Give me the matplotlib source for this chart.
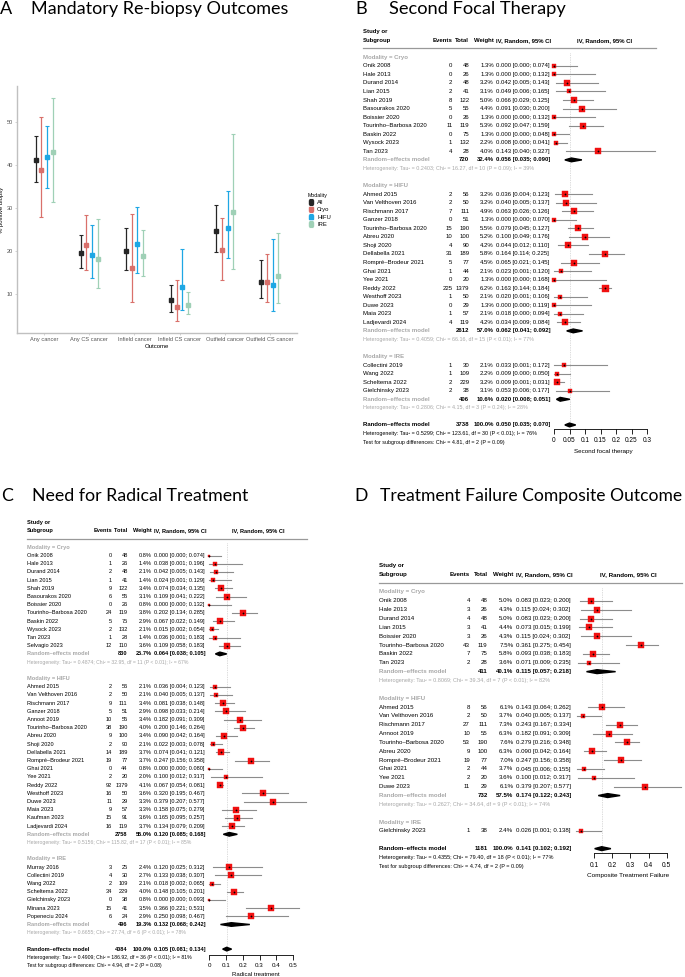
import matplotlib
matplotlib.use('Agg')
import matplotlib.pyplot as plt
from matplotlib import transforms
from matplotlib.patches import Polygon

plt.rcParams['font.family'] = ['Liberation Sans', 'DejaVu Sans']

W, H = 685, 977

# ---------------- panel A data ----------------
outcomes = ['Any cancer', 'Any CS cancer', 'Infield cancer', 'Infield CS cancer',
            'Outfield cancer', 'Outfield CS cancer']
modalities = ['All', 'Cryo', 'HIFU', 'IRE']
est_all = [41.1, 19.6, 20.0, 8.5, 24.7, 12.8]
lo_all = [35.9, 16.0, 15.6, 5.8, 19.7, 9.1]
hi_all = [46.6, 23.6, 25.3, 12.1, 30.6, 17.8]
est_cryo = [38.8, 21.3, 16.1, 7.0, 20.3, 12.8]
lo_cryo = [27.8, 15.6, 8.2, 3.6, 13.3, 8.2]
hi_cryo = [51.0, 28.3, 28.6, 13.2, 27.6, 19.3]
est_hifu = [41.7, 19.1, 21.6, 11.5, 25.4, 12.1]
lo_hifu = [34.6, 13.6, 14.9, 6.2, 18.4, 6.1]
hi_hifu = [48.9, 26.0, 30.2, 20.4, 33.9, 22.7]
est_ire = [43.0, 18.0, 18.9, 7.5, 29.1, 14.2]
lo_ire = [31.3, 11.3, 14.2, 5.3, 15.8, 7.9]
hi_ire = [55.6, 27.3, 24.9, 10.5, 47.1, 24.1]

# ---------------- panel B data (second focal therapy) ----------------
# study, events, total, weight %, estimate, lower, upper
b_cryo = [
    ("Onik 2008", 0, 48, 1.3, 0.000, 0.000, 0.074),
    ("Hale 2013", 0, 26, 1.3, 0.000, 0.000, 0.132),
    ("Durand 2014", 2, 48, 3.2, 0.042, 0.005, 0.143),
    ("Lian 2015", 2, 41, 3.1, 0.049, 0.006, 0.165),
    ("Shah 2019", 8, 122, 5.0, 0.066, 0.029, 0.125),
    ("Basourakos 2020", 5, 55, 4.4, 0.091, 0.030, 0.200),
    ("Boissier 2020", 0, 26, 1.3, 0.000, 0.000, 0.132),
    ("Tourinho\u2013Barbosa 2020", 11, 119, 5.3, 0.092, 0.047, 0.159),
    ("Baskin 2022", 0, 75, 1.3, 0.000, 0.000, 0.048),
    ("Wysock 2023", 1, 132, 2.2, 0.008, 0.000, 0.041),
    ("Tan 2023", 4, 28, 4.0, 0.143, 0.040, 0.327),
]
b_cryo_re = (720, 32.4, 0.056, 0.035, 0.090)
b_cryo_het = "Tau\u00b2 = 0.2403; Chi\u00b2 = 16.27, df = 10 (P = 0.09); I\u00b2 = 39%"
b_hifu = [
    ("Ahmed 2015", 2, 56, 3.2, 0.036, 0.004, 0.123),
    ("Van Velthoven 2016", 2, 50, 3.2, 0.040, 0.005, 0.137),
    ("Rischmann 2017", 7, 111, 4.9, 0.063, 0.026, 0.126),
    ("Ganzer 2018", 0, 51, 1.3, 0.000, 0.000, 0.070),
    ("Tourinho\u2013Barbosa 2020", 15, 190, 5.5, 0.079, 0.045, 0.127),
    ("Abreu 2020", 10, 100, 5.2, 0.100, 0.049, 0.176),
    ("Shoji 2020", 4, 90, 4.2, 0.044, 0.012, 0.110),
    ("Dellabella 2021", 31, 189, 5.8, 0.164, 0.114, 0.225),
    ("Rompr\u00e9\u2013Brodeur 2021", 5, 77, 4.5, 0.065, 0.021, 0.145),
    ("Ghai 2021", 1, 44, 2.1, 0.023, 0.001, 0.120),
    ("Yee 2021", 0, 20, 1.3, 0.000, 0.000, 0.168),
    ("Reddy 2022", 225, 1379, 6.2, 0.163, 0.144, 0.184),
    ("Westhoff 2023", 1, 50, 2.1, 0.020, 0.001, 0.106),
    ("Duwe 2023", 0, 29, 1.3, 0.000, 0.000, 0.119),
    ("Maia 2023", 1, 57, 2.1, 0.018, 0.000, 0.094),
    ("Ladjevardi 2024", 4, 119, 4.2, 0.034, 0.009, 0.084),
]
b_hifu_re = (2612, 57.0, 0.062, 0.041, 0.092)
b_hifu_het = "Tau\u00b2 = 0.4059; Chi\u00b2 = 66.16, df = 15 (P < 0.01); I\u00b2 = 77%"
b_ire = [
    ("Collectini 2019", 1, 30, 2.1, 0.033, 0.001, 0.172),
    ("Wang 2022", 1, 109, 2.2, 0.009, 0.000, 0.050),
    ("Scheltema 2022", 2, 229, 3.2, 0.009, 0.001, 0.031),
    ("Gielchinsky 2023", 2, 38, 3.1, 0.053, 0.006, 0.177),
]
b_ire_re = (406, 10.6, 0.020, 0.008, 0.051)
b_ire_het = "Tau\u00b2 = 0.2806; Chi\u00b2 = 4.15, df = 3 (P = 0.24); I\u00b2 = 28%"
b_overall = (3738, 100.0, 0.050, 0.035, 0.070)
b_overall_het = "Tau\u00b2 = 0.5299; Chi\u00b2 = 123.61, df = 30 (P < 0.01); I\u00b2 = 76%"
b_test = "Chi\u00b2 = 4.81, df = 2 (P = 0.09)"

# ---------------- panel C data (need for radical treatment) ----------------
c_cryo = [
    ("Onik 2008", 0, 48, 0.8, 0.000, 0.000, 0.074),
    ("Hale 2013", 1, 26, 1.4, 0.038, 0.001, 0.196),
    ("Durand 2014", 2, 48, 2.1, 0.042, 0.005, 0.143),
    ("Lian 2015", 1, 41, 1.4, 0.024, 0.001, 0.129),
    ("Shah 2019", 9, 122, 3.4, 0.074, 0.034, 0.135),
    ("Basourakos 2020", 6, 55, 3.1, 0.109, 0.041, 0.222),
    ("Boissier 2020", 0, 26, 0.8, 0.000, 0.000, 0.132),
    ("Tourinho\u2013Barbosa 2020", 24, 119, 3.8, 0.202, 0.134, 0.285),
    ("Baskin 2022", 5, 75, 2.9, 0.067, 0.022, 0.149),
    ("Wysock 2023", 2, 132, 2.1, 0.015, 0.002, 0.054),
    ("Tan 2023", 1, 28, 1.4, 0.036, 0.001, 0.183),
    ("Selvagio 2023", 12, 110, 3.6, 0.109, 0.058, 0.183),
]
c_cryo_re = (830, 25.7, 0.064, 0.038, 0.105)
c_cryo_het = "Tau\u00b2 = 0.4874; Chi\u00b2 = 32.95, df = 11 (P < 0.01); I\u00b2 = 67%"
c_hifu = [
    ("Ahmed 2015", 2, 56, 2.1, 0.036, 0.004, 0.123),
    ("Van Velthoven 2016", 2, 50, 2.1, 0.040, 0.005, 0.137),
    ("Rischmann 2017", 9, 111, 3.4, 0.081, 0.038, 0.148),
    ("Ganzer 2018", 5, 51, 2.9, 0.098, 0.033, 0.214),
    ("Annoot 2019", 10, 55, 3.4, 0.182, 0.091, 0.309),
    ("Tourinho\u2013Barbosa 2020", 38, 190, 4.0, 0.200, 0.146, 0.264),
    ("Abreu 2020", 9, 100, 3.4, 0.090, 0.042, 0.164),
    ("Shoji 2020", 2, 90, 2.1, 0.022, 0.003, 0.078),
    ("Dellabella 2021", 14, 189, 3.7, 0.074, 0.041, 0.121),
    ("Rompr\u00e9\u2013Brodeur 2021", 19, 77, 3.7, 0.247, 0.156, 0.358),
    ("Ghai 2021", 0, 44, 0.8, 0.000, 0.000, 0.080),
    ("Yee 2021", 2, 20, 2.0, 0.100, 0.012, 0.317),
    ("Reddy 2022", 92, 1379, 4.1, 0.067, 0.054, 0.081),
    ("Westhoff 2023", 16, 50, 3.6, 0.320, 0.195, 0.467),
    ("Duwe 2023", 11, 29, 3.3, 0.379, 0.207, 0.577),
    ("Maia 2023", 9, 57, 3.3, 0.158, 0.075, 0.279),
    ("Kaufman 2023", 15, 91, 3.6, 0.165, 0.095, 0.257),
    ("Ladjevardi 2024", 16, 119, 3.7, 0.134, 0.079, 0.209),
]
c_hifu_re = (2758, 55.0, 0.120, 0.085, 0.168)
c_hifu_het = "Tau\u00b2 = 0.5156; Chi\u00b2 = 115.82, df = 17 (P < 0.01); I\u00b2 = 85%"
c_ire = [
    ("Murray 2016", 3, 25, 2.4, 0.120, 0.025, 0.312),
    ("Collectini 2019", 4, 30, 2.7, 0.133, 0.038, 0.307),
    ("Wang 2022", 2, 109, 2.1, 0.018, 0.002, 0.065),
    ("Scheltema 2022", 34, 229, 4.0, 0.148, 0.105, 0.201),
    ("Gielchinsky 2023", 0, 38, 0.8, 0.000, 0.000, 0.093),
    ("Minana 2023", 15, 41, 3.5, 0.366, 0.221, 0.531),
    ("Popeneciu 2024", 6, 24, 2.9, 0.250, 0.098, 0.467),
]
c_ire_re = (496, 19.3, 0.132, 0.068, 0.242)
c_ire_het = "Tau\u00b2 = 0.6655; Chi\u00b2 = 27.74, df = 6 (P < 0.01); I\u00b2 = 78%"
c_overall = (4084, 100.0, 0.105, 0.081, 0.134)
c_overall_het = "Tau\u00b2 = 0.4909; Chi\u00b2 = 186.92, df = 36 (P < 0.01); I\u00b2 = 81%"
c_test = "Chi\u00b2 = 4.94, df = 2 (P = 0.08)"

# ---------------- panel D data (composite treatment failure) ----------------
d_cryo = [
    ("Onik 2008", 4, 48, 5.0, 0.083, 0.023, 0.200),
    ("Hale 2013", 3, 26, 4.3, 0.115, 0.024, 0.302),
    ("Durand 2014", 4, 48, 5.0, 0.083, 0.023, 0.200),
    ("Lian 2015", 3, 41, 4.4, 0.073, 0.015, 0.199),
    ("Boissier 2020", 3, 26, 4.3, 0.115, 0.024, 0.302),
    ("Tourinho\u2013Barbosa 2020", 43, 119, 7.5, 0.361, 0.275, 0.454),
    ("Baskin 2022", 7, 75, 5.8, 0.093, 0.038, 0.183),
    ("Tan 2023", 2, 28, 3.6, 0.071, 0.009, 0.235),
]
d_cryo_re = (411, 40.1, 0.115, 0.057, 0.218)
d_cryo_het = "Tau\u00b2 = 0.8069; Chi\u00b2 = 39.34, df = 7 (P < 0.01); I\u00b2 = 82%"
d_hifu = [
    ("Ahmed 2015", 8, 56, 6.1, 0.143, 0.064, 0.262),
    ("Van Velthoven 2016", 2, 50, 3.7, 0.040, 0.005, 0.137),
    ("Rischmann 2017", 27, 111, 7.3, 0.243, 0.167, 0.334),
    ("Annoot 2019", 10, 55, 6.3, 0.182, 0.091, 0.309),
    ("Tourinho\u2013Barbosa 2020", 53, 190, 7.6, 0.279, 0.216, 0.348),
    ("Abreu 2020", 9, 100, 6.3, 0.090, 0.042, 0.164),
    ("Rompr\u00e9\u2013Brodeur 2021", 19, 77, 7.0, 0.247, 0.156, 0.358),
    ("Ghai 2021", 2, 44, 3.7, 0.045, 0.006, 0.155),
    ("Yee 2021", 2, 20, 3.6, 0.100, 0.012, 0.317),
    ("Duwe 2023", 11, 29, 6.1, 0.379, 0.207, 0.577),
]
d_hifu_re = (732, 57.5, 0.174, 0.122, 0.243)
d_hifu_het = "Tau\u00b2 = 0.2627; Chi\u00b2 = 34.64, df = 9 (P < 0.01); I\u00b2 = 74%"
d_ire = [
    ("Gielchinsky 2023", 1, 38, 2.4, 0.026, 0.001, 0.138),
]
d_overall = (1181, 100.0, 0.141, 0.102, 0.192)
d_overall_het = "Tau\u00b2 = 0.4355; Chi\u00b2 = 79.40, df = 18 (P < 0.01); I\u00b2 = 77%"
d_test = "Chi\u00b2 = 4.74, df = 2 (P = 0.09)"

RED = '#f01010'
GREY = '#a8a8a8'
TITLE_FONT = ['Lato', 'DejaVu Sans']


def fx(px):
    return px / W


def fy(py):
    return 1 - py / H


fig = plt.figure(figsize=(W / 100, H / 100), dpi=100)
renderer = fig.canvas.get_renderer()


def title(letter, text, xl, xt, base, width):
    # size the title so it spans the same width as in the reference
    t = fig.text(fx(xt), fy(base), text, fontsize=13, family=TITLE_FONT, va='baseline')
    size = 13 * width / t.get_window_extent(renderer).width
    t.set_fontsize(size)
    fig.text(fx(xl), fy(base), letter, fontsize=size, family=TITLE_FONT, va='baseline')


# ---------------- panel A ----------------
axA = fig.add_axes([fx(17), fy(333), 280 / W, 247 / H])
cols = {'All': '#262626', 'Cryo': '#d9706b', 'HIFU': '#1ea7e4', 'IRE': '#9fd0b6'}
series = {'All': (est_all, lo_all, hi_all), 'Cryo': (est_cryo, lo_cryo, hi_cryo),
          'HIFU': (est_hifu, lo_hifu, hi_hifu), 'IRE': (est_ire, lo_ire, hi_ire)}
offs = [-0.1875, -0.0625, 0.0625, 0.1875]
for k, m in enumerate(modalities):
    e, lo, hi = series[m]
    xs = [i + 1 + offs[k] for i in range(len(outcomes))]
    yerr = [[a - b for a, b in zip(e, lo)], [b - a for a, b in zip(e, hi)]]
    axA.errorbar(xs, e, yerr=yerr, fmt='s', ms=2.2, color=cols[m], ecolor=cols[m],
                 elinewidth=0.9, capsize=1.4, capthick=0.8, label=m)
axA.set_xlim(0.4, 6.6)
axA.set_ylim(0.9, 58.3)
axA.set_xticks(range(1, 7))
axA.set_xticklabels(outcomes)
axA.set_yticks([10, 20, 30, 40, 50])
for s in ['top', 'right']:
    axA.spines[s].set_visible(False)
for s in ['left', 'bottom']:
    axA.spines[s].set_color('#c0c0c0')
    axA.spines[s].set_linewidth(1.0)
axA.tick_params(length=1.5, width=0.5, color='#c0c0c0', labelsize=4.1,
                labelcolor='#555555', pad=1.5)
axA.set_xlabel('Outcome', fontsize=4.3, labelpad=1.5)
axA.set_ylabel('% positive biopsy', fontsize=4.3, labelpad=2)
leg = axA.legend(title='Modality', loc='upper left', bbox_to_anchor=(fx(302), fy(188)),
                 bbox_transform=fig.transFigure, frameon=False, fontsize=4.2,
                 title_fontsize=3.8, handlelength=1.2, handletextpad=0.5,
                 labelspacing=0.35)
leg._legend_box.align = 'left'
title('A', 'Mandatory Re-biopsy Outcomes', 0, 31, 14, 256)


# ---------------- forest plots ----------------
def forest(groups, overall, overall_het, test, L):
    fs = L['fs']
    row0, rh = L['row0'], L['rh']
    x0, ppu = L['x0'], L['ppu']
    top_px = row0 - 3.5 * rh
    ax = fig.add_axes([fx(L['pl']), fy(L['axis']), (L['pr'] - L['pl']) / W,
                       (L['axis'] - top_px) / H])
    ax.set_xlim((L['pl'] - x0) / ppu, (L['pr'] - x0) / ppu)
    ax.set_ylim((L['axis'] - row0) / rh, (top_px - row0) / rh)
    ax.patch.set_visible(False)
    for s in ['top', 'left', 'right']:
        ax.spines[s].set_visible(False)
    ticks = L['ticks']
    ax.spines['bottom'].set_bounds(ticks[0], ticks[-1])
    ax.spines['bottom'].set_linewidth(0.6)
    ax.set_yticks([])
    ax.set_xticks(ticks)
    ax.set_xticklabels(['%g' % t for t in ticks])
    ax.tick_params(axis='x', length=3.5, width=0.6, labelsize=fs + 0.4, pad=2.5)
    ax.set_xlabel(L['xlabel'], fontsize=fs + 0.2, labelpad=3)
    tr = transforms.blended_transform_factory(fig.transFigure, ax.transData)

    def txt(xpx, r, s, ha='left', **kw):
        ax.text(fx(xpx), r, s, transform=tr, ha=ha, va='center', fontsize=kw.pop('size', fs),
                clip_on=False, **kw)

    # header
    txt(L['name'], -3, 'Study or', weight='bold')
    txt(L['name'], -2, 'Subgroup', weight='bold')
    txt(L['ev'], -2, 'Events', ha='right', weight='bold')
    txt(L['tot'], -2, 'Total', ha='right', weight='bold')
    txt(L['wt'], -2, 'Weight', ha='right', weight='bold')
    txt(L['ci'], -2, 'IV, Random, 95% CI', weight='bold')
    txt(L['hdr'], -2, 'IV, Random, 95% CI', ha='center', weight='bold')
    ax.plot([fx(L['name']), fx(L['lr'])], [-1.05, -1.05], transform=tr, color='#999999',
            lw=0.9, clip_on=False)

    wmax = max(s[3] for g in groups for s in g[1])
    r = 0
    for label, studies, pooled, het in groups:
        txt(L['name'], r, label, color=GREY, weight='bold')
        r += 1
        for name, ev, tot, w, e, lo, hi in studies:
            txt(L['name'], r, name)
            txt(L['ev'], r, str(ev), ha='right')
            txt(L['tot'], r, str(tot), ha='right')
            txt(L['wt'], r, '%.1f%%' % w, ha='right')
            txt(L['ci'], r, '%.3f [%.3f; %.3f]' % (e, lo, hi))
            ax.plot([lo, hi], [r, r], color='#8c8c8c', lw=0.8, clip_on=False, zorder=2)
            side = L['sq'] * (w / wmax) ** 0.5 * 0.72
            ax.plot([e], [r], marker='s', ms=side, color=RED, mec=RED, mew=0.3,
                    clip_on=False, zorder=3)
            ax.plot([e], [r], marker='+', ms=2.0, color='black', mew=0.5,
                    clip_on=False, zorder=4)
            r += 1
        if pooled is not None:
            tot, w, e, lo, hi = pooled
            txt(L['name'], r, 'Random\u2013effects model', color=GREY, weight='bold')
            txt(L['tot'], r, str(tot), ha='right', weight='bold')
            txt(L['wt'], r, '%.1f%%' % w, ha='right', weight='bold')
            txt(L['ci'], r, '%.3f [%.3f; %.3f]' % (e, lo, hi), weight='bold')
            ax.add_patch(Polygon([(lo, r), (e, r - 0.22), (hi, r), (e, r + 0.22)],
                                 closed=True, color='black', clip_on=False, zorder=3))
            r += 1
            txt(L['name'], r, 'Heterogeneity: ' + het, color=GREY, size=fs * 0.9)
            r += 1
        r += 1
    tot, w, e, lo, hi = overall
    txt(L['name'], r, 'Random\u2013effects model', weight='bold')
    txt(L['tot'], r, str(tot), ha='right', weight='bold')
    txt(L['wt'], r, '%.1f%%' % w, ha='right', weight='bold')
    txt(L['ci'], r, '%.3f [%.3f; %.3f]' % (e, lo, hi), weight='bold')
    ax.add_patch(Polygon([(lo, r), (e, r - 0.22), (hi, r), (e, r + 0.22)],
                         closed=True, color='black', clip_on=False, zorder=3))
    ax.plot([e, e], [-0.5, (L['axis'] - row0) / rh], color='#bbbbbb', lw=0.5,
            ls=(0, (1, 1.5)), zorder=1)
    txt(L['name'], r + 1, 'Heterogeneity: ' + overall_het, size=fs * 0.9)
    txt(L['name'], r + 2, 'Test for subgroup differences: ' + test, size=fs * 0.9)
    return ax


LB = dict(name=363, ev=452.3, tot=469.3, wt=493.8, ci=496.5, hdr=605, lr=656,
          row0=57.3, rh=8.55, axis=429, x0=554, ppu=310, pl=550, pr=657, sq=7.0,
          ticks=[0, 0.05, 0.1, 0.15, 0.2, 0.25, 0.3], xlabel='Second focal therapy', fs=4.3)
LC = dict(name=26.7, ev=112, tot=127.7, wt=151.7, ci=154, hdr=258.3, lr=307,
          row0=547.3, rh=8.2, axis=955, x0=209, ppu=168.7, pl=205, pr=307, sq=6.7,
          ticks=[0, 0.1, 0.2, 0.3, 0.4, 0.5], xlabel='Radical treatment', fs=4.1)
LD = dict(name=379, ev=470, tot=487.7, wt=513.3, ci=515.7, hdr=628.8, lr=681.7,
          row0=592, rh=8.85, axis=853.3, x0=576.2, ppu=180.8, pl=574, pr=683, sq=6.8,
          ticks=[0.1, 0.2, 0.3, 0.4, 0.5], xlabel='Composite Treatment Failure', fs=4.4)

forest([('Modality = Cryo', b_cryo, b_cryo_re, b_cryo_het),
        ('Modality = HIFU', b_hifu, b_hifu_re, b_hifu_het),
        ('Modality = IRE', b_ire, b_ire_re, b_ire_het)],
       b_overall, b_overall_het, b_test, LB)
title('B', 'Second Focal Therapy', 355, 389.3, 14, 176)

forest([('Modality = Cryo', c_cryo, c_cryo_re, c_cryo_het),
        ('Modality = HIFU', c_hifu, c_hifu_re, c_hifu_het),
        ('Modality = IRE', c_ire, c_ire_re, c_ire_het)],
       c_overall, c_overall_het, c_test, LC)
title('C', 'Need for Radical Treatment', 1, 31.7, 500.7, 216)

forest([('Modality = Cryo', d_cryo, d_cryo_re, d_cryo_het),
        ('Modality = HIFU', d_hifu, d_hifu_re, d_hifu_het),
        ('Modality = IRE', d_ire, None, None)],
       d_overall, d_overall_het, d_test, LD)
title('D', 'Treatment Failure Composite Outcome', 354.3, 380, 500.7, 300)

fig.savefig('out.png', dpi=100)
